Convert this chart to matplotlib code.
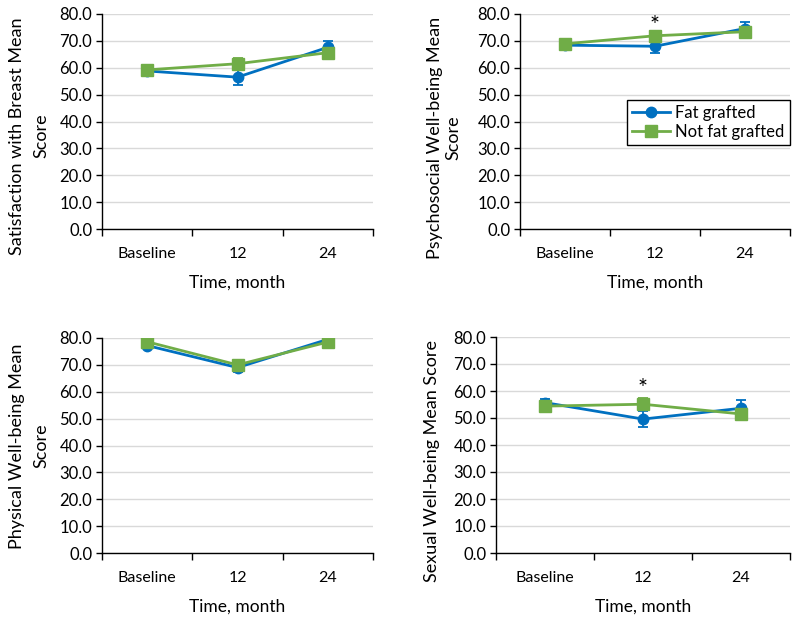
import matplotlib
matplotlib.use("Agg")
import matplotlib.pyplot as plt
from matplotlib.lines import Line2D
import numpy as np

plt.rcParams['font.family'] = ['Lato', 'DejaVu Sans']

categories = ["Baseline", "12", "24"]
series_names = ["Fat grafted", "Not fat grafted"]

ylabels = ["Satisfaction with Breast Mean\nScore",
           "Psychosocial Well-being Mean\nScore",
           "Physical Well-being Mean\nScore",
           "Sexual Well-being Mean Score"]

# Panel values (fat grafted, not fat grafted)
sat_fat = [58.8, 56.5, 67.6]
sat_fat_err = [1.2, 2.8, 2.2]
sat_not = [59.2, 61.5, 65.6]
sat_not_err = [1.0, 2.0, 1.5]

psy_fat = [68.4, 68.0, 74.6]
psy_fat_err = [1.0, 2.6, 2.3]
psy_not = [68.9, 71.9, 73.4]
psy_not_err = [1.0, 1.6, 1.3]

phy_fat = [77.2, 69.0, 79.5]
phy_fat_err = [0.9, 1.8, 1.0]
phy_not = [78.6, 70.0, 78.5]
phy_not_err = [0.8, 1.0, 1.0]

sex_fat = [55.7, 49.6, 53.6]
sex_fat_err = [1.2, 3.0, 3.0]
sex_not = [54.4, 55.1, 51.5]
sex_not_err = [1.0, 2.2, 1.5]

star_panels = [False, True, False, True]
star_y = [None, 75.8, None, 60.8]

panels = [
    (sat_fat, sat_fat_err, sat_not, sat_not_err),
    (psy_fat, psy_fat_err, psy_not, psy_not_err),
    (phy_fat, phy_fat_err, phy_not, phy_not_err),
    (sex_fat, sex_fat_err, sex_not, sex_not_err),
]

W, H = 800, 621
rects = [
    [102/W, 1-229/H, 271/W, 215/H],
    [520/W, 1-229/H, 270/W, 215/H],
    [102/W, 1-553/H, 271/W, 215/H],
    [496/W, 1-553/H, 294/W, 216/H],
]
# y-label block centres (pixels) and line spacing
ylabel_pos = [(29.5, 136), (444, 138), (29.5, 446), (432, 461)]
ylabel_ls = [1.65, 1.15, 1.65, 1.2]

blue = "#0070C0"
green = "#70AD47"

fig = plt.figure(figsize=(8, 6.21), dpi=100)

for i, (rect, data) in enumerate(zip(rects, panels)):
    ax = fig.add_axes(rect)
    fat, fat_e, nt, nt_e = data
    x = np.arange(len(categories)) + 0.5
    ax.errorbar(x, fat, yerr=fat_e, color=blue, marker='o', markersize=7.5,
                linewidth=2, capsize=3.5, elinewidth=1.3, capthick=1.3,
                zorder=3)
    ax.errorbar(x, nt, yerr=nt_e, color=green, marker='s', markersize=8,
                linewidth=2, capsize=3.5, elinewidth=1.3, capthick=1.3,
                zorder=4)
    ax.set_xlim(0, 3)
    ax.set_ylim(0, 80)
    ax.set_yticks(np.arange(0, 81, 10))
    ax.set_yticklabels([f"{v:.1f}" for v in np.arange(0, 81, 10)], fontsize=12)
    ax.set_xticks([0.5, 1.5, 2.5])
    ax.set_xticklabels(categories, fontsize=11.5)
    ax.set_xticks([0, 1, 2, 3], minor=True)
    ax.tick_params(axis='x', which='major', length=0, pad=13)
    ax.tick_params(axis='x', which='minor', length=5, width=1, direction='out')
    ax.tick_params(axis='y', length=4, width=1, direction='out', pad=3)
    ax.grid(axis='y', color='#d9d9d9', linewidth=1)
    ax.set_axisbelow(True)
    for s in ['top', 'right']:
        ax.spines[s].set_visible(False)
    ax.spines['left'].set_linewidth(1)
    ax.spines['bottom'].set_linewidth(1)
    ax.set_xlabel("Time, month", fontsize=12.5, labelpad=10)
    px, py = ylabel_pos[i]
    fig.text(px / W, 1 - py / H, ylabels[i], rotation=90, ha='center',
             va='center', fontsize=13, linespacing=ylabel_ls[i])
    if star_panels[i]:
        ax.text(1.5, star_y[i], "*", ha='center', va='center', fontsize=17)
    if i == 1:
        handles = [
            Line2D([], [], color=blue, marker='o', markersize=7.5, linewidth=2),
            Line2D([], [], color=green, marker='s', markersize=8, linewidth=2),
        ]
        leg = fig.legend(handles, series_names, loc='upper left',
                         bbox_to_anchor=(627/W, 1-100/H), bbox_transform=fig.transFigure,
                         borderaxespad=0, fontsize=12, frameon=True, fancybox=False,
                         edgecolor='black', handlelength=2.3, framealpha=1,
                         borderpad=0.3, labelspacing=0.2, handletextpad=0.3)
        leg.get_frame().set_linewidth(1)

fig.savefig("out.png", dpi=100)
